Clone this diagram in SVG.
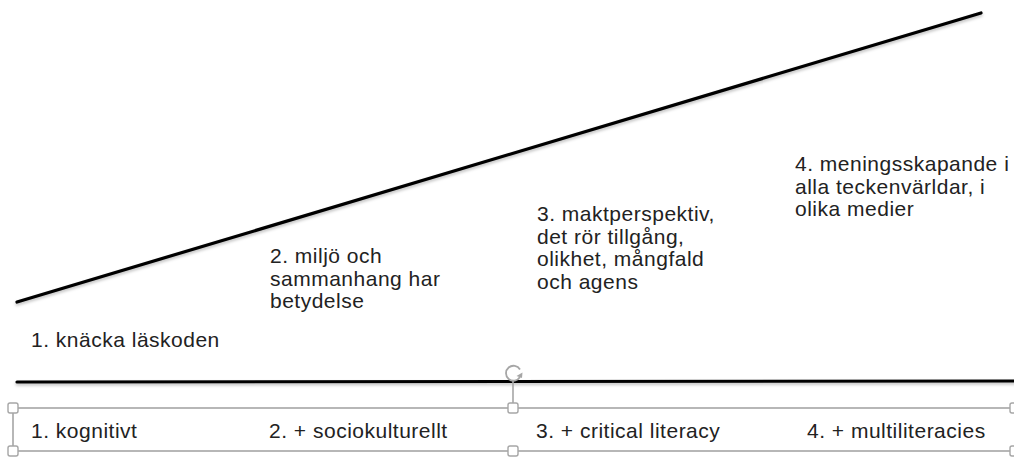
<svg xmlns="http://www.w3.org/2000/svg" width="1014" height="457" viewBox="0 0 1014 457">
  <defs>
    <style>
      text { font-family: "Liberation Sans", Arial, sans-serif; font-size: 21px; letter-spacing: 0.5px; fill: #222; }
      .line { stroke: #000; stroke-width: 3.2; fill: none; stroke-linecap: round; }
      .sel { stroke: #a6a6a6; stroke-width: 1.6; fill: none; }
      .handle { stroke: #a6a6a6; stroke-width: 1.4; fill: #fff; }
    </style>
    <filter id="shadow" x="-5%" y="-50%" width="110%" height="200%">
      <feDropShadow dx="0" dy="2" stdDeviation="1.5" flood-color="#000" flood-opacity="0.25"/>
    </filter>
  </defs>
  <rect width="1014" height="457" fill="#fff"/>

  <g id="connectors" filter="url(#shadow)">
    <line class="line" x1="17" y1="302" x2="981" y2="13"/>
    <line class="line" x1="17" y1="382" x2="1016" y2="381"/>
  </g>

  <g id="stage1"><text x="31" y="347">1. knäcka läskoden</text></g>
  <g id="stage2">
    <text x="270" y="263">2. miljö och</text>
    <text x="270" y="285.5">sammanhang har</text>
    <text x="270" y="308">betydelse</text>
  </g>
  <g id="stage3">
    <text x="537" y="221">3. maktperspektiv,</text>
    <text x="537" y="243.5">det rör tillgång,</text>
    <text x="537" y="266">olikhet, mångfald</text>
    <text x="537" y="288.5">och agens</text>
  </g>
  <g id="stage4">
    <text x="795" y="171">4. meningsskapande i</text>
    <text x="795" y="193.5">alla teckenvärldar, i</text>
    <text x="795" y="216">olika medier</text>
  </g>

  <g id="selection-box">
    <rect class="sel" x="13" y="408" width="1002" height="43"/>
    <line class="sel" x1="513" y1="381" x2="513" y2="403"/>
    <g id="rotate-handle">
      <path d="M520 369.5 A7.5 7.5 0 1 0 520 377" fill="none" stroke="#a6a6a6" stroke-width="1.8"/>
      <path d="M516.5 376 L522 378 L522.5 372.5 Z" fill="#a6a6a6"/>
    </g>
    <rect class="handle" x="8" y="403" width="10" height="10" rx="2"/>
    <rect class="handle" x="508" y="403" width="10" height="10" rx="2"/>
    <rect class="handle" x="1010" y="403" width="10" height="10" rx="2"/>
    <rect class="handle" x="8" y="446" width="10" height="10" rx="2"/>
    <rect class="handle" x="508" y="446" width="10" height="10" rx="2"/>
    <rect class="handle" x="1010" y="446" width="10" height="10" rx="2"/>
  </g>

  <g id="box1"><text x="31" y="438">1. kognitivt</text></g>
  <g id="box2"><text x="269" y="438">2. + sociokulturellt</text></g>
  <g id="box3"><text x="536" y="438">3. + critical literacy</text></g>
  <g id="box4"><text x="807" y="438">4. + multiliteracies</text></g>
</svg>
